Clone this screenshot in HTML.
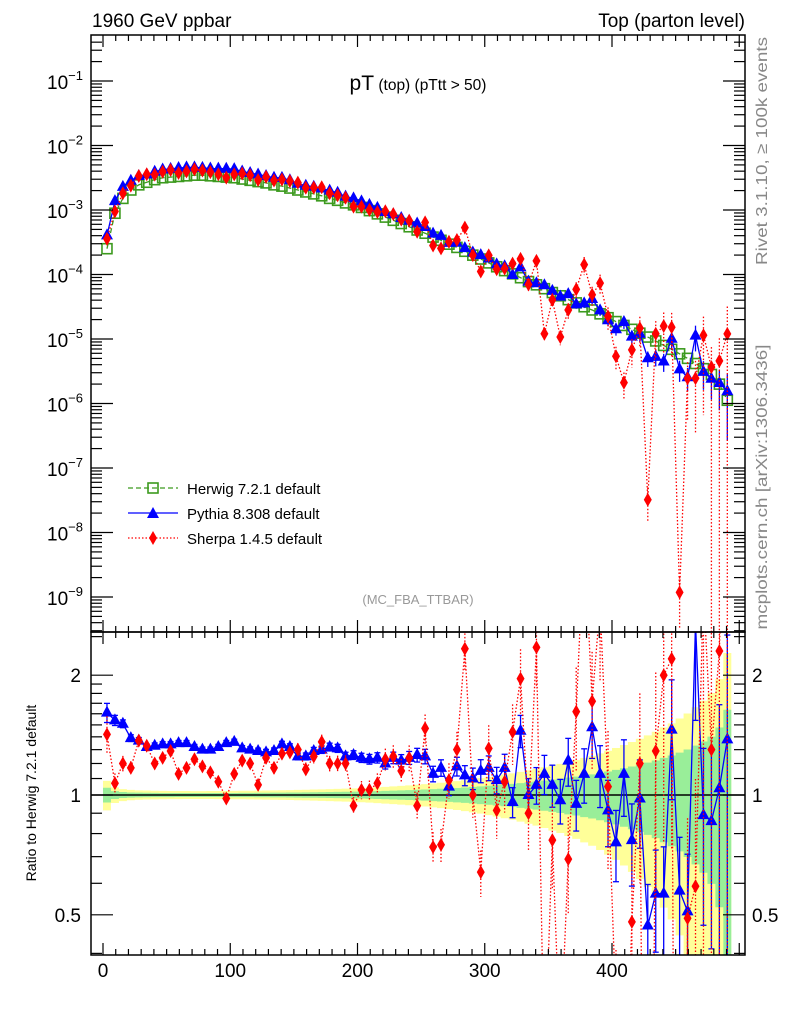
<!DOCTYPE html>
<html><head><meta charset="utf-8"><style>
html,body{margin:0;padding:0;background:#fff;width:786px;height:1024px;overflow:hidden;}
svg{display:block;font-family:"Liberation Sans",sans-serif;}
</style></head><body>
<svg id="c" width="786" height="1024" xmlns="http://www.w3.org/2000/svg">
<defs>
<clipPath id="cm"><rect x="91" y="35" width="654" height="597"/></clipPath>
<clipPath id="cr"><rect x="91" y="632" width="654" height="323"/></clipPath>
</defs>
<g id="bands" clip-path="url(#cr)"></g>
<g id="marks"></g>
<rect x="91" y="35" width="654" height="597" fill="none" stroke="#000" stroke-width="1.5"/>
<rect x="91" y="632" width="654" height="323" fill="none" stroke="#000" stroke-width="1.5"/>
<g id="ticks"></g>
<text x="92" y="27" font-size="19">1960 GeV ppbar</text>
<text x="745" y="27" font-size="19" text-anchor="end">Top (parton level)</text>
<text x="418" y="90" text-anchor="middle"><tspan font-size="21">pT</tspan><tspan font-size="15.5"> (top) (pTtt &gt; 50)</tspan></text>
<text x="418" y="604" text-anchor="middle" font-size="13" fill="#999">(MC_FBA_TTBAR)</text>
<text transform="translate(767,151) rotate(-90)" text-anchor="middle" font-size="16" fill="#888" textLength="228" lengthAdjust="spacingAndGlyphs">Rivet 3.1.10, ≥ 100k events</text>
<text transform="translate(767,487) rotate(-90)" text-anchor="middle" font-size="16" fill="#888" textLength="285" lengthAdjust="spacingAndGlyphs">mcplots.cern.ch [arXiv:1306.3436]</text>
<text transform="translate(36,793) rotate(-90)" text-anchor="middle" font-size="14">Ratio to Herwig 7.2.1 default</text>
<g>
<g>
<line x1="128" y1="488" x2="178" y2="488" stroke="#3c9a1e" stroke-width="1.3" stroke-dasharray="5,3"/>
<rect x="148" y="483" width="10" height="10" fill="none" stroke="#3c9a1e" stroke-width="1.6"/>
<text x="187" y="494" font-size="15">Herwig 7.2.1 default</text></g>
<g>
<line x1="128" y1="513" x2="178" y2="513" stroke="#0000ff" stroke-width="1.3"/>
<polygon points="153,507 159,518 147,518" fill="#0000ff"/>
<text x="187" y="519" font-size="15">Pythia 8.308 default</text></g>
<g>
<line x1="128" y1="538" x2="178" y2="538" stroke="#ff0000" stroke-width="1.3" stroke-dasharray="1.5,2"/>
<polygon points="153,531 157,538 153,545 149,538" fill="#ff0000"/>
<text x="187" y="544" font-size="15">Sherpa 1.4.5 default</text></g>
</g>
</svg>
<script>
const binWidth = 6.25;
const herwigLog = [-3.60,-3.05,-2.82,-2.69,-2.61,-2.57,-2.53,-2.50,-2.49,-2.48,-2.47,-2.46,-2.46,-2.47,-2.48,-2.49,-2.50,-2.52,-2.54,-2.56,-2.58,-2.61,-2.63,-2.66,-2.69,-2.72,-2.75,-2.78,-2.82,-2.85,-2.89,-2.92,-2.96,-3.01,-3.06,-3.11,-3.16,-3.21,-3.26,-3.31,-3.36,-3.42,-3.47,-3.53,-3.58,-3.64,-3.70,-3.76,-3.82,-3.88,-3.94,-3.99,-4.05,-4.11,-4.16,-4.22,-4.28,-4.33,-4.39,-4.44,-4.50,-4.55,-4.61,-4.67,-4.73,-4.79,-4.85,-4.91,-4.97,-5.03,-5.10,-5.16,-5.23,-5.30,-5.38,-5.46,-5.55,-5.70,-5.95];
const pythiaRatio = [1.61,1.54,1.51,1.39,1.37,1.32,1.33,1.34,1.34,1.35,1.35,1.32,1.30,1.30,1.32,1.35,1.36,1.31,1.30,1.29,1.28,1.29,1.34,1.32,1.25,1.25,1.29,1.30,1.32,1.31,1.25,1.26,1.24,1.23,1.24,1.20,1.24,
1.22,1.24,1.26,1.25,1.13,1.17,1.05,1.18,1.12,1.10,1.15,1.17,1.09,1.17,0.96,1.45,1.00,1.06,1.13,1.06,0.97,1.22,0.95,1.13,1.48,1.13,0.915,0.76,1.13,0.77,0.98,0.47,0.565,0.565,1.46,0.575,0.51,2.7,0.89,0.86,1.04,1.38];
const sherpaRatio = [1.42,1.07,1.20,1.17,1.37,1.33,1.20,1.24,1.29,1.13,1.17,1.23,1.18,1.14,1.08,0.98,1.13,1.22,1.20,1.06,1.24,1.17,1.27,1.28,1.30,1.16,1.25,1.36,1.20,1.20,1.20,0.94,1.03,1.03,1.07,1.23,1.25,
1.15,1.24,0.94,1.47,0.74,0.75,1.09,1.30,2.33,1.00,0.64,1.31,0.915,1.08,1.44,1.96,0.90,2.35,
0.2,0.77,0.23,0.69,1.62,4.5,1.72,3.0,1.05,0.29,0.13,0.48,1.2,0.003,1.29,2.0,2.2,0.0002,0.49,0.59,3.3,1.3,2.3,10.7];
const xTicks = [0,100,200,300,400];
const mainTicks = [-1,-2,-3,-4,-5,-6,-7,-8,-9];
const ratioTicks = [0.5,1,2];

const NS="http://www.w3.org/2000/svg";
const X = v => 103 + v*1.2725;
const YM = lg => 81 + (-1 - lg)*64.5;
const YR = r => 795 - Math.log10(r)*398;
function el(tag, attrs, parent){const e=document.createElementNS(NS,tag);for(const k in attrs)e.setAttribute(k,attrs[k]);parent.appendChild(e);return e;}
const marks=document.getElementById('marks');
const ticks=document.getElementById('ticks');
const bands=document.getElementById('bands');
const n = herwigLog.length;
const ctr = i => (i+0.5)*binWidth;
const relErr = herwigLog.map(h => 0.012*Math.sqrt(Math.pow(10,-2.5-h)));

let yTop=[],gTop=[],gBot=[],yBot=[];
for(let i=0;i<n;i++){
  const x0=X(i*binWidth), x1=X((i+1)*binWidth), e=relErr[i];
  yTop.push([x0,YR(1+2*e)],[x1,YR(1+2*e)]);
  gTop.push([x0,YR(1+e)],[x1,YR(1+e)]);
  gBot.push([x0,YR(Math.max(1-e,0.05))],[x1,YR(Math.max(1-e,0.05))]);
  yBot.push([x0,YR(Math.max(1-2*e,0.05))],[x1,YR(Math.max(1-2*e,0.05))]);
}
const pts = a => a.map(p=>p.join(',')).join(' ');
const yb=el('polygon',{points:pts(yTop.concat(yBot.slice().reverse())),fill:'#ffff99'},bands);


const gb=el('polygon',{points:pts(gTop.concat(gBot.slice().reverse())),fill:'#99ee99'},bands);


const ref=el('line',{x1:91,x2:745,y1:YR(1),y2:YR(1),stroke:'#000','stroke-width':1.5},bands);



function series(name,color,dash,vals,ratios,errScale,shape){
  const gm=el('g',{'clip-path':'url(#cm)'},marks);
  
  
  const gr=el('g',{'clip-path':'url(#cr)'},marks);
  
  
  const lineA={fill:'none',stroke:color,'stroke-width':1.3};
  if(dash) lineA['stroke-dasharray']=dash;
  const pm=[],pr=[];
  for(let i=0;i<n;i++){pm.push([X(ctr(i)),YM(vals[i])]);pr.push([X(ctr(i)),YR(Math.max(ratios[i],1e-4))]);}
  const l1=el('polyline',Object.assign({points:pts(pm)},lineA),gm);
  
  
  if(name!=='herwig'){
    const l2=el('polyline',Object.assign({points:pts(pr)},lineA),gr);
    
    
  }
  for(let i=0;i<n;i++){
    const e=relErr[i]*errScale;
    const x=X(ctr(i));
    const v=Math.pow(10,vals[i]);
    if(errScale>0){
      el('line',Object.assign({x1:x,x2:x,y1:YM(Math.log10(v*(1+e))),y2:YM(Math.log10(Math.max(v*(1-e),1e-12)))},lineA),gm);
      const r=ratios[i];
      el('line',Object.assign({x1:x,x2:x,y1:YR(r*(1+e)),y2:YR(Math.max(r*(1-e),1e-4))},lineA),gr);
      if(name==='pythia'){
        el('line',{x1:x-3,x2:x+3,y1:YR(r*(1+e)),y2:YR(r*(1+e)),stroke:color,'stroke-width':1.3},gr);
        el('line',{x1:x-3,x2:x+3,y1:YR(Math.max(r*(1-e),1e-4)),y2:YR(Math.max(r*(1-e),1e-4)),stroke:color,'stroke-width':1.3},gr);
      }
    }
    const targets=[[gm,pm[i][1]]];
    if(name!=='herwig') targets.push([gr,pr[i][1]]);
    for(const [g,y] of targets){
      let m;
      if(shape==='sq') m=el('rect',{x:x-5,y:y-5,width:10,height:10,fill:'none',stroke:color,'stroke-width':1.6},g);
      else if(shape==='tri') m=el('polygon',{points:`${x},${y-7} ${x+6},${y+4} ${x-6},${y+4}`,fill:color},g);
      else m=el('polygon',{points:`${x},${y-7} ${x+4},${y} ${x},${y+7} ${x-4},${y}`,fill:color},g);
      
      
    }
  }
}
series('herwig','#3c9a1e','5,3',herwigLog,herwigLog.map(()=>1),0,'sq');
series('pythia','#0000ff',null,herwigLog.map((h,i)=>h+Math.log10(pythiaRatio[i])),pythiaRatio,1.3,'tri');
series('sherpa','#ff0000','1.5,2',herwigLog.map((h,i)=>h+Math.log10(sherpaRatio[i])),sherpaRatio,2.6,'dia');

const tk={stroke:'#000','stroke-width':1.2};
for(let v=-10;v<=500;v+=10){
  const x=X(v); if(x<92||x>744) continue;
  const major=v%100===0, len=major?12:6;
  el('line',Object.assign({x1:x,x2:x,y1:35,y2:35+len},tk),ticks);
  el('line',Object.assign({x1:x,x2:x,y1:632,y2:632-len},tk),ticks);
  el('line',Object.assign({x1:x,x2:x,y1:632,y2:632+len},tk),ticks);
  el('line',Object.assign({x1:x,x2:x,y1:955,y2:955-len},tk),ticks);
}
xTicks.forEach(v=>{
  const t=el('text',{x:X(v),y:977,'font-size':19,'text-anchor':'middle'},ticks);
  t.textContent=v;
  
  
});
for(let d=-10;d<=0;d++){
  for(let m=1;m<10;m++){
    const lg=d+Math.log10(m), y=YM(lg);
    if(y<36||y>631) continue;
    const len=m===1?22:11;
    el('line',Object.assign({x1:91,x2:91+len,y1:y,y2:y},tk),ticks);
    el('line',Object.assign({x1:745,x2:745-len,y1:y,y2:y},tk),ticks);
  }
}
mainTicks.forEach(d=>{
  const t=el('text',{x:83,y:YM(d)+8,'font-size':19,'text-anchor':'end'},ticks);
  t.textContent='10';
  const s=el('tspan',{dy:-9,'font-size':13},t);
  s.textContent='−'+(-d);
  
  
});
[0.4,0.5,0.6,0.7,0.8,0.9,1,1.1,1.2,1.3,1.4,1.5,1.6,1.7,1.8,1.9,2,2.5].forEach(r=>{
  const y=YR(r); if(y<633||y>954) return;
  const len=(r===0.5||r===1||r===2)?22:11;
  el('line',Object.assign({x1:91,x2:91+len,y1:y,y2:y},tk),ticks);
  el('line',Object.assign({x1:745,x2:745-len,y1:y,y2:y},tk),ticks);
});
ratioTicks.forEach(r=>{
  const t=el('text',{x:81,y:YR(r)+7,'font-size':19,'text-anchor':'end'},ticks);
  t.textContent=r;
  
  
  const t2=el('text',{x:752,y:YR(r)+7,'font-size':19},ticks);
  t2.textContent=r;
  
  
});
</script>
</body></html>
